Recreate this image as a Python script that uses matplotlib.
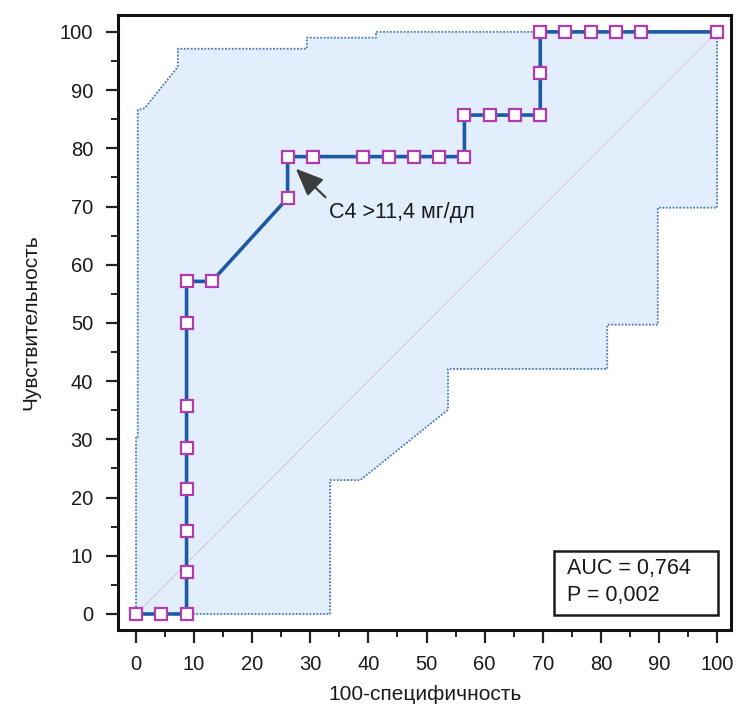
import matplotlib
matplotlib.use("Agg")
import matplotlib.pyplot as plt
from matplotlib.patches import Rectangle, Polygon

plt.rcParams['font.family'] = ['Liberation Sans', 'DejaVu Sans']

# ROC curve: 100-specificity (%) and sensitivity (%)
fpr = [0, 4.35, 8.70, 8.70, 8.70, 8.70, 8.70, 8.70, 8.70, 8.70, 13.04, 26.09,
       26.09, 30.43, 39.13, 43.48, 47.83, 52.17, 56.52, 56.52, 60.87, 65.22,
       69.57, 69.57, 69.57, 73.91, 78.26, 82.61, 86.96, 100]
tpr = [0, 0, 0, 7.14, 14.29, 21.43, 28.57, 35.71, 50.0, 57.14, 57.14, 71.43,
       78.57, 78.57, 78.57, 78.57, 78.57, 78.57, 78.57, 85.71, 85.71, 85.71,
       85.71, 92.86, 100, 100, 100, 100, 100, 100]

# 95% confidence band: upper boundary then lower boundary (closed outline)
band_x = [0, 0, 0.3, 0.3, 1.5, 7.2, 7.2, 29.4, 29.4, 41.3, 41.3, 100,
          100, 89.8, 89.8, 81.1, 81.1, 53.7, 53.7, 38.6, 33.4, 33.4, 8.7]
band_y = [0, 30.4, 30.4, 86.6, 86.9, 94.0, 97.1, 97.1, 99.0, 99.0, 100, 100,
          69.8, 69.8, 49.7, 49.7, 42.1, 42.1, 35.1, 23.0, 23.0, 0, 0]

x_ticks = list(range(0, 101, 10))
y_ticks = list(range(0, 101, 10))
auc_text = "AUC = 0,764\nP = 0,002"
cutoff_label = "C4 >11,4 мг/дл"
cutoff_point = (26.09, 78.57)

fig = plt.figure(figsize=(7.36, 7.09), dpi=100)
ax = fig.add_axes([118 / 736, 1 - 630 / 709, 613 / 736, 615 / 709])

ax.set_xlim(-3.1, 102.4)
ax.set_ylim(-2.75, 102.9)

# confidence band
band = Polygon(list(zip(band_x, band_y)), closed=True, facecolor='#E2EEFB',
               edgecolor='none', zorder=1)
ax.add_patch(band)
ax.plot(band_x, band_y, color='#4A7BBE', lw=1.3, ls=(0, (1, 0.9)), zorder=2)

# reference diagonal
ax.plot([0, 100], [0, 100], color='#DCCAD8', lw=0.9, zorder=2)

# ROC curve
ax.plot(fpr, tpr, color='#1C5AA5', lw=2.6, zorder=3,
        marker='s', markersize=8.5, markerfacecolor='white',
        markeredgecolor='#B03CB0', markeredgewidth=1.6)

# optimal cut-off annotation
ax.annotate('', xy=(27.5, 76.5), xytext=(32.6, 71.6),
            arrowprops=dict(arrowstyle='-|>,head_length=1.0,head_width=0.42',
                            mutation_scale=17, color='#3C3C3C', lw=1.6,
                            shrinkA=0, shrinkB=0),
            zorder=4)
ax.text(33.3, 69.0, cutoff_label, fontsize=15.5, ha='left', va='center',
        color='#1a1a1a', zorder=4)

# AUC box
ax.add_patch(Rectangle((0.711, 0.024), 0.268, 0.104, transform=ax.transAxes,
                       facecolor='white', edgecolor='#1a1a1a', lw=1.8, zorder=5))
ax.text(0.732, 0.078, auc_text, transform=ax.transAxes, fontsize=15.5,
        ha='left', va='center', linespacing=1.4, color='#1a1a1a', zorder=6)

ax.set_xticks(x_ticks)
ax.set_yticks(y_ticks)
ax.set_xticks(range(5, 100, 10), minor=True)
ax.set_yticks(range(5, 100, 10), minor=True)
ax.tick_params(which='major', direction='out', length=9, width=1.6,
               labelsize=14.5, pad=9, color='#222222', labelcolor='#1a1a1a')
ax.tick_params(which='minor', direction='out', length=5, width=1.4,
               color='#222222')

for s in ax.spines.values():
    s.set_linewidth(2.2)
    s.set_color('#111111')

ax.set_xlabel('100-специфичность', fontsize=15, labelpad=8, color='#1a1a1a')
ax.set_ylabel('Чувствительность', fontsize=15, labelpad=14, color='#1a1a1a')

fig.savefig('out.png', dpi=100)
